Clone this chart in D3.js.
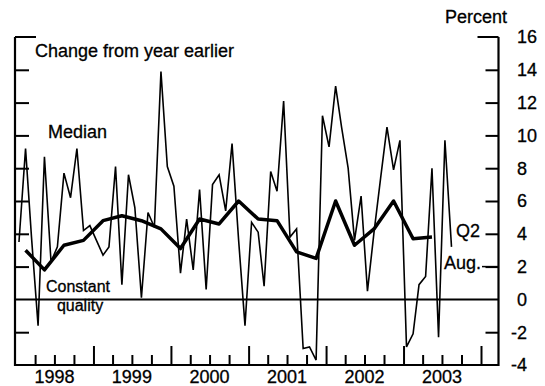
<!DOCTYPE html>
<html>
<head>
<meta charset="utf-8">
<script src="https://cdn.jsdelivr.net/npm/d3@7"></script>
<style>
body { margin: 0; background: #fff; }
svg text { font-family: "Liberation Sans", Arial, Helvetica, sans-serif; font-size: 18px; fill: #000; stroke: #000; stroke-width: 0.3px; }
</style>
</head>
<body>
<svg id="chart" width="545" height="386"></svg>
<script>
//median price, change from year earlier, monthly Jan 1998 - Aug 2003
let medianStart = new Date(1998, 0, 15);
let medianValues = [
    3.5, 9.2, 3.8, -1.6, 8.7, 2.3, 3.2, 7.7, 6.2, 9.2, 4.2, 4.5,
    3.6, 2.7, 3.2, 8.1, 0.9, 7.6, 5.6, 0.1, 5.3, 4.4, 13.9, 8.1,
    6.9, 1.6, 4.9, 1.8, 6.7, 0.6, 7.0, 7.6, 5.4, 9.5, 3.6, -1.6,
    4.7, 4.1, 0.8, 7.8, 6.6, 12.1, 3.8, 4.3, -3.0, -2.9, -3.7, 11.2,
    9.3, 13.0, 10.5, 8.0, 3.6, 6.3, 0.5, 4.1, 7.4, 10.5, 7.9, 9.7,
    -2.9, -2.1, 0.9, 1.4, 8.0, -2.3, 9.7, 3.2
];

//constant quality, quarterly Q1 1998 - Q2 2003 (plotted mid quarter)
let cqStart = new Date(1998, 1, 15);
let cqValues = [
    3.0, 1.8, 3.3, 3.6,
    4.8, 5.1, 4.8, 4.3,
    3.1, 4.9, 4.6, 6.0,
    4.9, 4.8, 2.9, 2.5,
    6.0, 3.3, 4.3, 6.0,
    3.7, 3.8
];

let yTicks = [16, 14, 12, 10, 8, 6, 4, 2, 0, -2, -4];
let yearLabels = [1998, 1999, 2000, 2001, 2002, 2003];

//frame
let plotLeft = 15, plotRight = 498.5, plotTop = 37, plotBottom = 365;

let svg = d3.select('#chart');

let x = d3.scaleTime()
    .domain([new Date(1998, 0, 1), new Date(2004, 0, 1)])
    .range([16, 481]);

let y = d3.scaleLinear()
    .domain([-4, 16])
    .range([plotBottom, plotTop]);

let medianData = medianValues.map((v, i) => ({date: d3.timeMonth.offset(medianStart, i), value: v}));
let cqData = cqValues.map((v, i) => ({date: d3.timeMonth.offset(cqStart, i * 3), value: v}));

//y ticks on both sides (inner ticks)
let innerTicks = yTicks.filter(d => d != 16 && d != 0 && d != -4);

svg.append('g')
    .attr('transform', 'translate(' + plotLeft + ',0)')
    .call(d3.axisRight(y).tickValues(innerTicks).tickSize(14).tickFormat(''))
    .call(g => g.select('.domain').remove())
    .selectAll('line').attr('stroke-width', 2);

svg.append('g')
    .attr('transform', 'translate(' + plotRight + ',0)')
    .call(d3.axisLeft(y).tickValues(innerTicks).tickSize(13).tickFormat(''))
    .call(g => g.select('.domain').remove())
    .selectAll('line').attr('stroke-width', 2);

//top caps
svg.append('line').attr('x1', plotLeft).attr('x2', plotLeft + 21).attr('y1', y(16)).attr('y2', y(16))
    .attr('stroke', '#000').attr('stroke-width', 2);
svg.append('line').attr('x1', plotRight - 21).attr('x2', plotRight).attr('y1', y(16)).attr('y2', y(16))
    .attr('stroke', '#000').attr('stroke-width', 2);

//x ticks, quarters short and years tall
let quarters = d3.timeMonth.every(3).range(new Date(1998, 1, 1), new Date(2004, 0, 1))
    .filter(d => d.getMonth() != 0);
let years = d3.timeYear.range(new Date(1999, 0, 1), new Date(2004, 0, 2));

svg.append('g')
    .attr('transform', 'translate(0,' + plotBottom + ')')
    .call(d3.axisTop(x).tickValues(quarters).tickSize(10).tickFormat(''))
    .call(g => g.select('.domain').remove())
    .selectAll('line').attr('stroke-width', 2);

svg.append('g')
    .attr('transform', 'translate(0,' + plotBottom + ')')
    .call(d3.axisTop(x).tickValues(years).tickSize(19).tickFormat(''))
    .call(g => g.select('.domain').remove())
    .selectAll('line').attr('stroke-width', 2);

//frame lines
svg.append('line').attr('x1', plotLeft).attr('x2', plotLeft).attr('y1', plotTop).attr('y2', plotBottom + 1)
    .attr('stroke', '#000').attr('stroke-width', 2.2);
svg.append('line').attr('x1', plotRight).attr('x2', plotRight).attr('y1', plotTop).attr('y2', plotBottom + 1)
    .attr('stroke', '#000').attr('stroke-width', 2.2);
svg.append('line').attr('x1', plotLeft).attr('x2', plotRight).attr('y1', plotBottom).attr('y2', plotBottom)
    .attr('stroke', '#000').attr('stroke-width', 2.2);
svg.append('line').attr('x1', plotLeft).attr('x2', plotRight).attr('y1', y(0)).attr('y2', y(0))
    .attr('stroke', '#000').attr('stroke-width', 2);

//series
let line = d3.line().x(d => x(d.date)).y(d => y(d.value));

svg.append('path').datum(medianData)
    .attr('d', line)
    .attr('fill', 'none').attr('stroke', '#000').attr('stroke-width', 1.6)
    .attr('stroke-linejoin', 'miter');

svg.append('path').datum(cqData)
    .attr('d', line)
    .attr('fill', 'none').attr('stroke', '#000').attr('stroke-width', 3.5)
    .attr('stroke-linejoin', 'round');

//right axis labels
svg.selectAll('.ylabel')
    .data(yTicks)
    .join('text')
    .attr('class', 'ylabel')
    .attr('x', d => d < 0 ? 527 : 517)
    .attr('y', d => y(d))
    .attr('dy', '0.36em')
    .attr('text-anchor', d => d < 0 ? 'end' : 'start')
    .text(d => d);

//year labels
svg.selectAll('.xlabel')
    .data(yearLabels)
    .join('text')
    .attr('class', 'xlabel')
    .attr('x', d => x(new Date(d, 6, 1)))
    .attr('y', 383)
    .attr('text-anchor', 'middle')
    .text(d => d);

//annotations
svg.append('text').attr('x', 445).attr('y', 23).text('Percent');
svg.append('text').attr('x', 35).attr('y', 57).text('Change from year earlier');
svg.append('text').attr('x', 48).attr('y', 138).text('Median');
svg.append('text').attr('x', 78).attr('y', 292).attr('text-anchor', 'middle').style('font-size', '16px').text('Constant');
svg.append('text').attr('x', 80).attr('y', 311).attr('text-anchor', 'middle').style('font-size', '16px').text('quality');
svg.append('text').attr('x', 480).attr('y', y(4) + 3).attr('text-anchor', 'end').text('Q2');
svg.append('text').attr('x', 481).attr('y', y(2) + 2).attr('text-anchor', 'end').text('Aug.');
svg.append('line').attr('x1', 482).attr('x2', plotRight).attr('y1', y(2)).attr('y2', y(2))
    .attr('stroke', '#000').attr('stroke-width', 1.5);
</script>
</body>
</html>
